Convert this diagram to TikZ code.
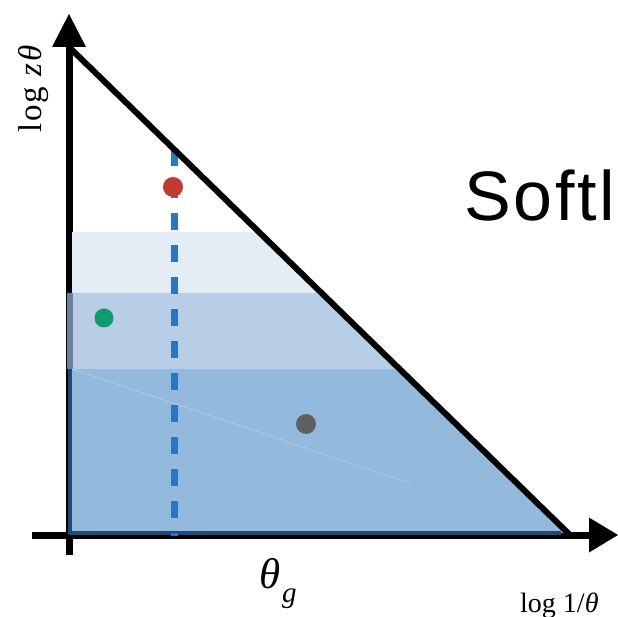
\documentclass[tikz,border=0pt]{standalone}
\usepackage{fontspec}
\setmainfont{Liberation Serif}
\newfontfamily\sfont[LetterSpace=4]{Liberation Sans}
\newfontfamily\spacedserif[LetterSpace=6]{Liberation Serif}
\definecolor{bandlight}{HTML}{E4ECF6}
\definecolor{bandmid}{HTML}{9AB9DD}
\definecolor{banddark}{HTML}{93B9DD}
\definecolor{navy}{HTML}{1F4A78}
\definecolor{dashblue}{HTML}{2A76C0}
\definecolor{dotred}{HTML}{C23A2F}
\definecolor{dotgreen}{HTML}{0E9A6C}
\definecolor{dotgray}{HTML}{5F5F5F}
\tikzset{
  axisline/.style={line width=7pt, black},
  tiphead/.style={fill=black, draw=none},
  hypline/.style={line width=6pt, black, line cap=round},
  dotmark/.style={circle, minimum size=20pt, inner sep=0pt, draw=none},
  lbl/.style={inner sep=0pt, anchor=base west},
}
\begin{document}
\begin{tikzpicture}[x=1pt,y=-1pt]
\useasboundingbox (0,0) rectangle (618,617);
% named points
\coordinate (O) at (69,535);
\coordinate (ytop) at (69,47);
\coordinate (xend) at (570,535);
\coordinate (vbot) at (69,555);
\coordinate (hleft) at (32,535);
\coordinate (harr) at (589,535);
% axes
\draw[axisline] (vbot) -- (ytop);
\draw[axisline] (hleft) -- (harr);
\fill[tiphead] (69,14) -- (52,47) -- (86,47) -- cycle;
\fill[tiphead] (618,535) -- (589,517.5) -- (589,552.5) -- cycle;
% bands
\fill[bandlight] (72,232) -- (259,232) -- (321.5,293) -- (72,293) -- cycle;
\fill[bandmid, fill opacity=0.7] (67,293) -- (321.5,293) -- (399.6,369) -- (67,369) -- cycle;
\fill[banddark] (70,369) -- (399.6,369) -- (567,533) -- (70,533) -- cycle;
\draw[white, opacity=0.25, line width=0.8pt] (72,369) -- (410,483);
\draw[navy, line width=4.5pt, line join=round] (69.8,369) -- (69.8,533) -- (561,533);
% dashed line
\coordinate (dtop) at (174,149.3);
\coordinate (dbot) at (174,536);
\draw[dashblue, line width=7pt, dash pattern=on 16.5pt off 15.5pt] (dtop) -- (dbot);
% hypotenuse
\draw[hypline] (ytop) -- (xend);
% dots
\node[dotmark, fill=dotred] (red) at (173,187) {};
\node[dotmark, fill=dotgreen, minimum size=19pt] (green) at (104,318) {};
\node[dotmark, fill=dotgray] (gray) at (306,424) {};
% labels
\node[lbl, rotate=90, font=\spacedserif\fontsize{33}{33}\selectfont] (ylab) at (41,133) {log\hspace{0.3em}\textit{zθ}};
\node[lbl, font=\fontsize{43}{43}\selectfont] (thg) at (259,588) {\textit{θ}};
\node[lbl, font=\fontsize{29}{29}\selectfont] (thgsub) at (282,602) {\textit{g}};
\node[lbl, font=\fontsize{28}{28}\selectfont] (xlab) at (520,612) {log 1/\textit{θ}};
\node[lbl, font=\sfont\fontsize{70}{70}\selectfont] (soft) at (464,221) {Softl};
\end{tikzpicture}
\end{document}
